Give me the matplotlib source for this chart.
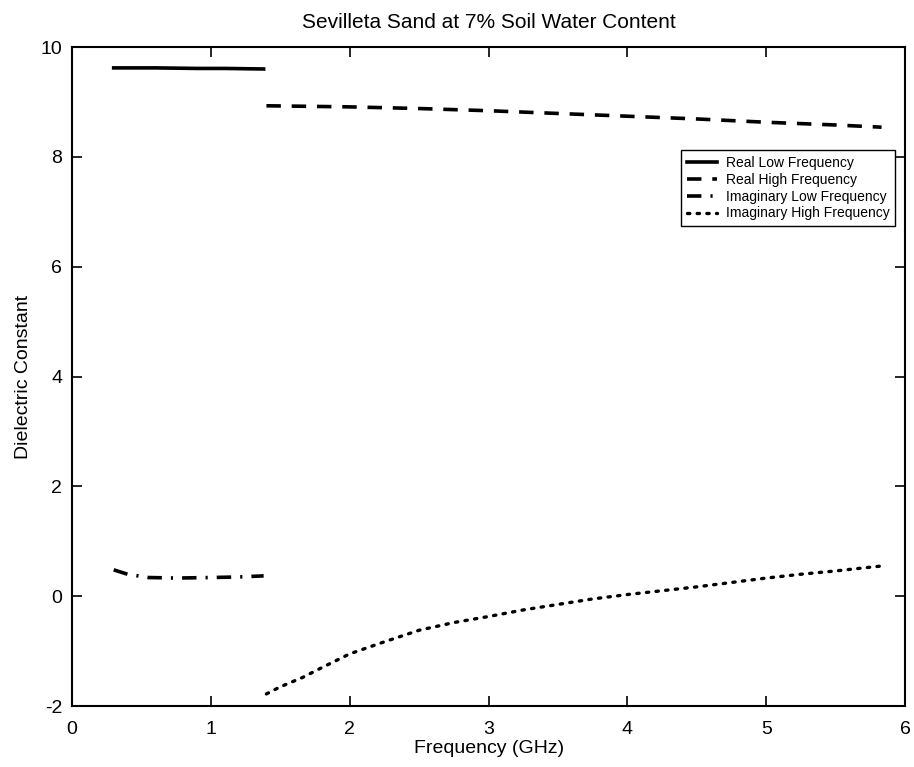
import matplotlib
matplotlib.use("Agg")
import matplotlib.pyplot as plt

plt.rcParams['font.family'] = ['Liberation Sans', 'DejaVu Sans']
plt.rcParams['axes.unicode_minus'] = False

# Real part, low frequency probe (GHz, dielectric constant)
real_low_f = [0.3, 0.6, 0.9, 1.1, 1.38]
real_low_v = [9.62, 9.62, 9.61, 9.61, 9.60]

# Real part, high frequency probe
real_high_f = [1.4, 2.0, 2.5, 3.0, 3.5, 4.0, 4.5, 5.0, 5.5, 5.83]
real_high_v = [8.93, 8.91, 8.88, 8.84, 8.79, 8.74, 8.69, 8.63, 8.58, 8.54]

# Imaginary part, low frequency probe
imag_low_f = [0.3, 0.4, 0.55, 0.75, 1.0, 1.2, 1.38]
imag_low_v = [0.48, 0.40, 0.34, 0.33, 0.34, 0.35, 0.37]

# Imaginary part, high frequency probe
imag_high_f = [1.4, 1.5, 1.66, 1.8, 2.0, 2.25, 2.5, 2.75, 3.0, 3.25, 3.5,
               3.75, 4.0, 4.25, 4.5, 4.75, 5.0, 5.25, 5.5, 5.83]
imag_high_v = [-1.78, -1.65, -1.48, -1.30, -1.05, -0.83, -0.62, -0.48, -0.37,
               -0.25, -0.15, -0.05, 0.03, 0.10, 0.17, 0.25, 0.33, 0.40, 0.46, 0.55]

x_ticks = [0, 1, 2, 3, 4, 5, 6]
y_ticks = [-2, 0, 2, 4, 6, 8, 10]

fig = plt.figure(figsize=(9.14, 7.67), dpi=100)
ax = fig.add_axes([0.0788, 0.0795, 0.9115, 0.8592])

ax.plot(real_low_f, real_low_v, color='black', lw=2.6, linestyle='-',
        label='Real Low Frequency')
ax.plot(real_high_f, real_high_v, color='black', lw=2.6, linestyle=(0, (4, 3)),
        label='Real High Frequency')
ax.plot(imag_low_f, imag_low_v, color='black', lw=2.6, linestyle=(0, (4, 2.5, 0.6, 2.5)),
        label='Imaginary Low Frequency')
ax.plot(imag_high_f, imag_high_v, color='black', lw=2.4, linestyle=(0, (0.7, 2.2)),
        dash_capstyle='round', label='Imaginary High Frequency')

ax.set_xlim(0, 6)
ax.set_ylim(-2, 10)
ax.set_xticks(x_ticks)
ax.set_yticks(y_ticks)
ax.tick_params(direction='in', top=True, right=True, length=7, width=1.2,
               labelsize=14, pad=7)
ax.tick_params(axis='x', pad=11)
for s in ax.spines.values():
    s.set_linewidth(1.5)

ax.set_title('Sevilleta Sand at 7% Soil Water Content', fontsize=15, pad=14)
ax.set_xlabel('Frequency (GHz)', fontsize=14, labelpad=1)
ax.set_ylabel('Dielectric Constant', fontsize=14, labelpad=6)

leg = ax.legend(loc='upper right', bbox_to_anchor=(0.988, 0.843), fontsize=10,
                frameon=True, fancybox=False, edgecolor='black', framealpha=1,
                handlelength=2.2, handletextpad=0.6, borderpad=0.4,
                labelspacing=0.2, borderaxespad=0)
leg.get_frame().set_linewidth(1.0)

fig.savefig('out.png', dpi=100)
